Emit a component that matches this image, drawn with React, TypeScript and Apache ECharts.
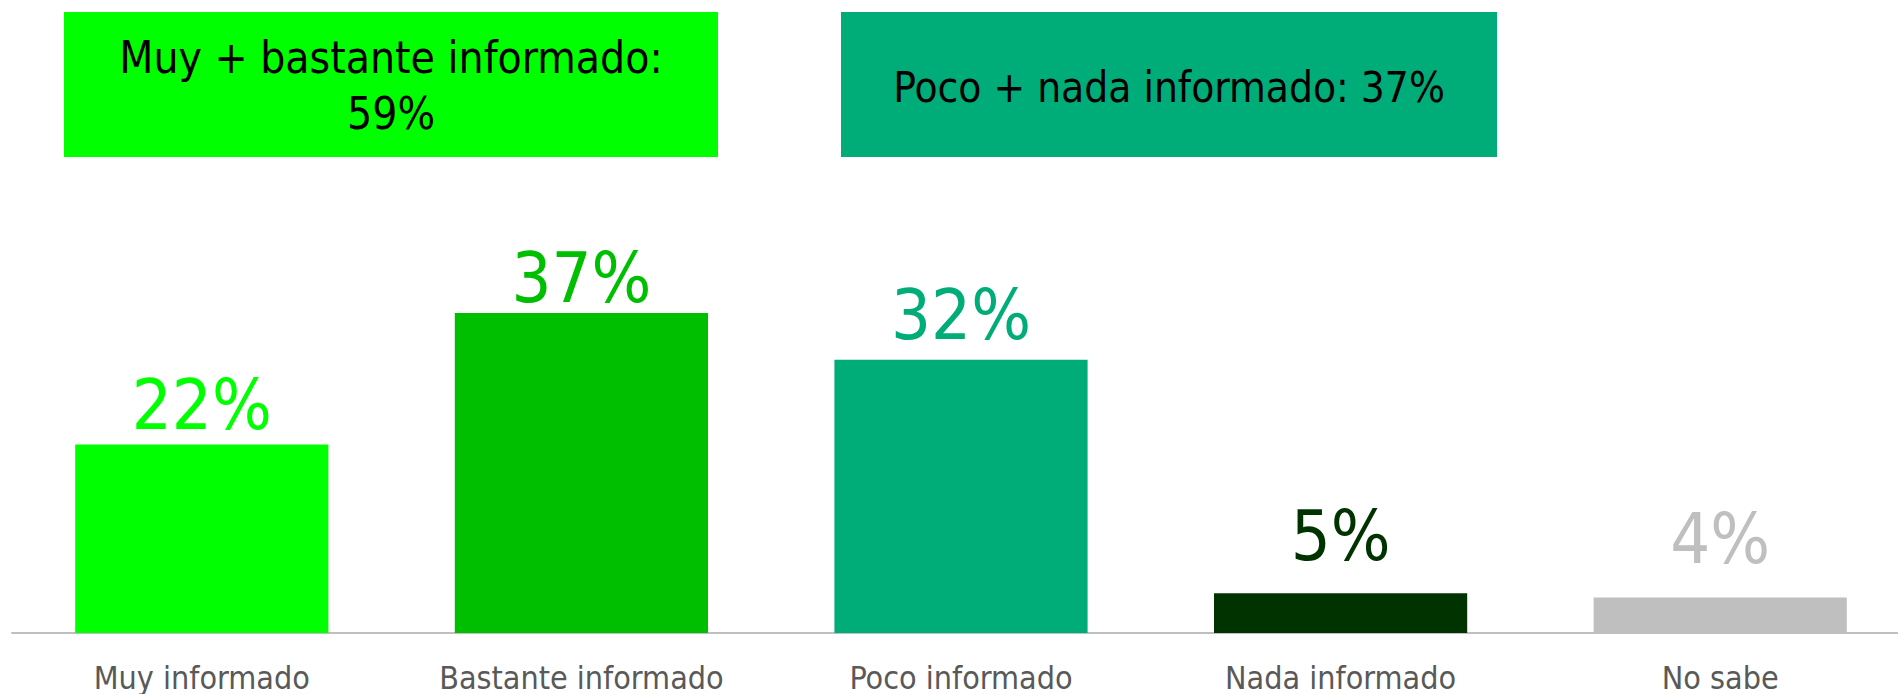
import React, { useEffect, useRef } from "react";
import * as echarts from "echarts";

const categories = ["Muy informado", "Bastante informado", "Poco informado", "Nada informado", "No sabe"];
const values = [21.8, 37.0, 31.6, 4.6, 4.1];
const groupLabels = ["Muy + bastante informado:", "Poco + nada informado:"];

const barColors = ["#00FF00", "#00BF00", "#00AC78", "#003300", "#BFBFBF"];
const labelGaps = [4, 0, 10, 22, 24];
const FONT = "'Liberation Sans Narrow', 'DejaVu Sans Condensed', 'Open Sans', sans-serif";

export default function App() {
  const ref = useRef<HTMLDivElement>(null);
  useEffect(() => {
    if (!ref.current) return;
    const chart = echarts.init(ref.current, undefined, { renderer: "svg" });
    const r = values.map((v) => Math.round(v));
    const sumHigh = r[0] + r[1];
    const sumLow = r[2] + r[3];
    chart.setOption({
      animation: false,
      grid: { left: 12, right: 0, top: 287, bottom: 61 },
      xAxis: {
        type: "category",
        data: categories,
        axisLine: { lineStyle: { color: "#BFBFBF", width: 2 } },
        axisTick: { show: false },
        axisLabel: { color: "#595959", fontSize: 32, fontFamily: FONT, margin: 29 },
      },
      yAxis: { type: "value", min: 0, max: 40, show: false, splitLine: { show: false } },
      series: [
        {
          type: "bar",
          barCategoryGap: "33.3%",
          data: values.map((v, i) => ({
            value: v,
            itemStyle: { color: barColors[i] },
            label: { color: barColors[i], distance: labelGaps[i] },
          })),
          label: {
            show: true,
            position: "top",
            fontSize: 70,
            fontFamily: FONT,
            formatter: (p: any) => Math.round(p.value) + "%",
          },
        },
      ],
      graphic: [
        {
          type: "group",
          children: [
            { type: "rect", shape: { x: 64, y: 12, width: 654, height: 145 }, style: { fill: "#00FF00" } },
            {
              type: "text",
              x: 391,
              y: 85,
              style: {
                text: groupLabels[0] + "\n" + sumHigh + "%",
                align: "center",
                verticalAlign: "middle",
                fontSize: 44,
                lineHeight: 56,
                fontFamily: FONT,
                fill: "#000000",
              },
            },
            { type: "rect", shape: { x: 841, y: 12, width: 656, height: 145 }, style: { fill: "#00AC78" } },
            {
              type: "text",
              x: 1169,
              y: 87,
              style: {
                text: groupLabels[1] + " " + sumLow + "%",
                align: "center",
                verticalAlign: "middle",
                fontSize: 42,
                fontFamily: FONT,
                fill: "#000000",
              },
            },
          ],
        },
      ],
    });
    return () => chart.dispose();
  }, []);
  return (
    <div style={{ position: "absolute", left: 0, top: 0, width: 1898, height: 694, overflow: "hidden" }}>
      <div ref={ref} style={{ width: 1910, height: 694 }} />
    </div>
  );
}
